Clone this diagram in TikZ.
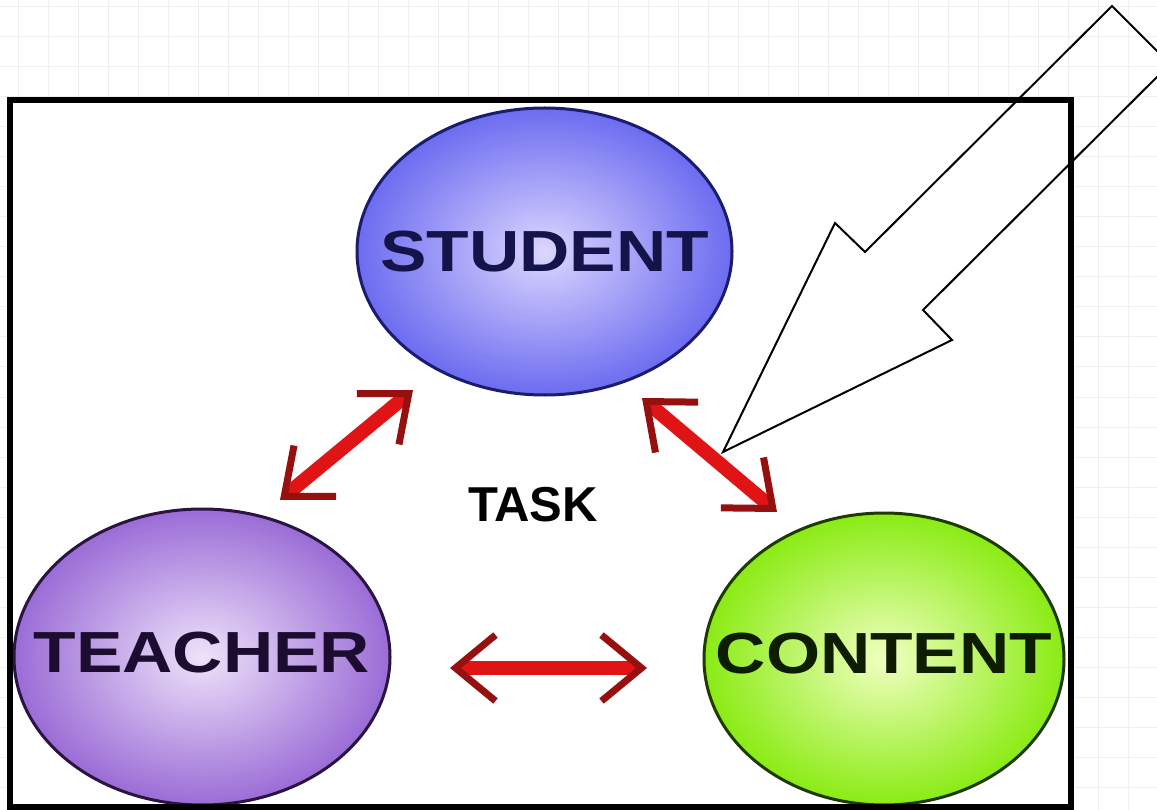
\documentclass[tikz,border=0pt]{standalone}
\usepackage{fontspec}
\setmainfont{Liberation Sans}
\usetikzlibrary{shapes.geometric, arrows.meta}

\definecolor{gridgray}{HTML}{EFEFEF}
\definecolor{studentblue}{HTML}{6C6CF0}
\definecolor{studentlight}{HTML}{DCD6FF}
\definecolor{studentline}{HTML}{1C1C6E}
\definecolor{studentink}{HTML}{14144A}
\definecolor{teacherpurple}{HTML}{9A6CD6}
\definecolor{teacherlight}{HTML}{EEE2FA}
\definecolor{teacherline}{HTML}{2A1440}
\definecolor{teacherink}{HTML}{1C0C30}
\definecolor{contentgreen}{HTML}{8AEB14}
\definecolor{contentlight}{HTML}{F0FFC0}
\definecolor{contentline}{HTML}{1E3A00}
\definecolor{contentink}{HTML}{0E1C00}
\definecolor{linkred}{HTML}{E01414}
\definecolor{barbred}{HTML}{961010}

% squeeze the names out sideways
\newcommand\widen[1]{\scalebox{1.2}[1]{#1}}

\begin{document}
\begin{tikzpicture}[
x=1pt,y=-1pt,
gridline/.style={draw=gridgray, line width=1pt},
party/.style={
    ellipse,inner sep=0pt,line width=3pt,shading=radial
},
caption/.style={font=\fontsize{58}{60}\selectfont\bfseries},
link/.style={
    draw=linkred,line width=14pt,
    >={Straight Barb[length=40pt,width=66pt,line width=7pt,color=barbred]},<->
},
pointer/.style={draw=black,line width=2pt,line join=miter}
]
    \useasboundingbox (0,0) rectangle (1157,810);
    \clip (0,0) rectangle (1157,810);

    % paper grid
    \foreach \gx in {18,48,...,1158}
        \draw[gridline] (\gx,0) -- (\gx,810);
    \foreach \gy in {7,37,...,807}
        \draw[gridline] (0,\gy) -- (1157,\gy);
    \fill[white] (10,100) rectangle (1071,807);

    % the three parties
    \node(student)[party,minimum width=375pt,minimum height=287pt,
        draw=studentline,inner color=studentlight,outer color=studentblue,
        label={[caption,text=studentink]center:\widen{STUDENT}}] at (544.5,251.5){};
    \node(teacher)[party,minimum width=376pt,minimum height=296pt,
        draw=teacherline,inner color=teacherlight,outer color=teacherpurple,
        label={[caption,text=teacherink,yshift=4pt]center:\widen{TEACHER}}] at (202,657){};
    \node(content)[party,minimum width=360pt,minimum height=292pt,
        draw=contentline,inner color=contentlight,outer color=contentgreen,
        label={[caption,text=contentink,yshift=5pt]center:\widen{CONTENT}}] at (884,659){};
    \node(task)[font=\fontsize{49}{50}\selectfont\bfseries] at (533,505){TASK};

    \draw[line width=6pt] (10,100) rectangle (1071,807);

    % links between them
    \coordinate(ts-a) at (413,390);
    \coordinate(ts-b) at (280,500);
    \coordinate(sc-a) at (642,398);
    \coordinate(sc-b) at (777,512);
    \coordinate(tc-a) at (450,668);
    \coordinate(tc-b) at (647,668);
    \draw[link] (ts-a) -- (ts-b);
    \draw[link] (sc-a) -- (sc-b);
    \draw[link] (tc-a) -- (tc-b);

    % big hollow pointer
    \draw[pointer] (1112,6) -- (1170,64) -- (923,310) -- (952,340)
        -- (723,452) -- (835,223) -- (865,252) -- cycle;
\end{tikzpicture}
\end{document}
